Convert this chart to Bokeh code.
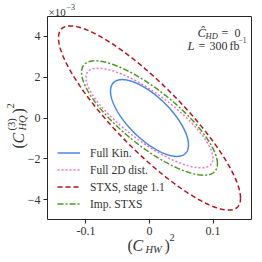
import numpy as np
from bokeh.plotting import figure
from bokeh.models import Range1d, FixedTicker, Label, Legend, LegendItem, BoxAnnotation
from bokeh.embed import file_html
from bokeh.resources import INLINE

# ---- data ----
labels = ["Full Kin.", "Full 2D dist.", "STXS, stage 1.1", "Imp. STXS"]
x_half = [0.0614, 0.100, 0.1433, 0.107]      # max |(C_HW)^2| reached by each contour
y_half = [1.88, 2.44, 4.51, 2.80]            # max |(C_HQ^(3))^2| in units of 1e-3
corr = [-0.70, -0.81, -0.87, -0.80]          # tilt (correlation) of each contour
x_ticks = [-0.1, 0, 0.1]
x_tick_labels = ["-0.1", "0", "0.1"]
y_ticks = [-4, -2, 0, 2, 4]

colors = ["#4a86e8", "#ee70cc", "#b5121b", "#4b9a26"]
dashes = ["solid", "2 2", "5 3", "6 2 2 2"]
FONT = "Liberation Serif"
INK = "#262626"

# axes box limits
XR, YR = 0.1606, 4.97
# box occupies page pixels x 47..251, y 16..219 of the 262x262 canvas
KX = 204.0 / (2 * XR)   # px per data unit
KY = 203.0 / (2 * YR)
x0, x1 = -XR - 47 / KX, XR + 11 / KX
y0, y1 = -YR - 43 / KY, YR + 16 / KY

p = figure(width=262, height=262, output_backend="svg", toolbar_location=None,
           x_range=Range1d(x0, x1), y_range=Range1d(y0, y1), min_border=0)
p.grid.visible = False
p.outline_line_color = None
p.background_fill_color = "white"

p.xaxis.ticker = FixedTicker(ticks=x_ticks)
p.xaxis.major_label_overrides = {tk: s for tk, s in zip(x_ticks, x_tick_labels)}
p.yaxis.ticker = FixedTicker(ticks=y_ticks)
p.xaxis.fixed_location = -YR
p.yaxis.fixed_location = -XR
for ax in (p.xaxis[0], p.yaxis[0]):
    ax.axis_line_color = None
    ax.major_tick_line_color = INK
    ax.major_tick_out = 4
    ax.major_tick_in = 0
    ax.minor_tick_line_color = None
    ax.major_label_text_font = FONT
    ax.major_label_text_font_size = "12px"
    ax.major_label_text_color = "#333333"
p.xaxis.major_label_standoff = 3
p.yaxis.major_label_standoff = 3

p.add_layout(BoxAnnotation(left=-XR, right=XR, bottom=-YR, top=YR, fill_alpha=0,
                           line_color=INK, line_width=1, line_alpha=1, level="underlay"))

t = np.linspace(0, 2 * np.pi, 300)
items = []
for i in range(4):
    xs = x_half[i] * np.cos(t)
    ys = y_half[i] * (corr[i] * np.cos(t) + np.sqrt(1 - corr[i] ** 2) * np.sin(t))
    r = p.line(xs, ys, line_color=colors[i], line_width=1.5, line_dash=dashes[i])
    items.append(LegendItem(label=labels[i], renderers=[r]))

leg = Legend(items=items, location=(57, 51), margin=0, padding=0, spacing=2,
             glyph_width=23, glyph_height=15, label_height=15, label_standoff=10,
             label_text_font=FONT, label_text_font_size="11.5px", label_text_color="#333333",
             border_line_alpha=0, background_fill_alpha=0)
p.add_layout(leg)


# page pixel -> data coordinate helpers
def dx(px):
    return (px - 149.0) / KX


def dy(py):
    return (117.5 - py) / KY


def txt(x, y, s, size, italic=False, angle=0.0):
    p.add_layout(Label(x=dx(x), y=dy(y), text=s,
                       text_font=FONT, text_font_size=f"{size}px", text_color="#333333",
                       text_font_style="italic" if italic else "normal",
                       text_baseline="alphabetic", text_align="left", angle=angle))


# multiplier above y axis
txt(48, 11, "×10", 11)
txt(66, 6, "−3", 8)

# x label (C_HW)^2
txt(127, 245, "(", 16)
txt(132, 245, "C", 16, italic=True)
txt(145, 249, "HW", 10.5, italic=True)
txt(164, 245, ")", 16)
txt(169, 237, "2", 10.5)

# y label (C^(3)_HQ)^2 rotated
A = np.pi / 2
txt(18, 148, "(", 16, angle=A)
txt(18, 143, "C", 16, italic=True, angle=A)
txt(11, 130, "(3)", 10.5, angle=A)
txt(22, 130, "HQ", 10.5, italic=True, angle=A)
txt(18, 113, ")", 16, angle=A)
txt(10, 108, "2", 10.5, angle=A)

# annotations
txt(197, 32, "Ĉ", 12.5, italic=True)
txt(205, 35, "HD", 8.5, italic=True)
txt(221, 32, "=", 12)
txt(234, 32, "0", 12)
txt(187, 45, "L", 12.5, italic=True)
txt(198, 45, "=", 12)
txt(209, 45, "300", 12)
txt(229, 45, "fb", 12)
txt(238, 39, "−1", 7.5)

open("out.html", "w").write(file_html(p, INLINE))
